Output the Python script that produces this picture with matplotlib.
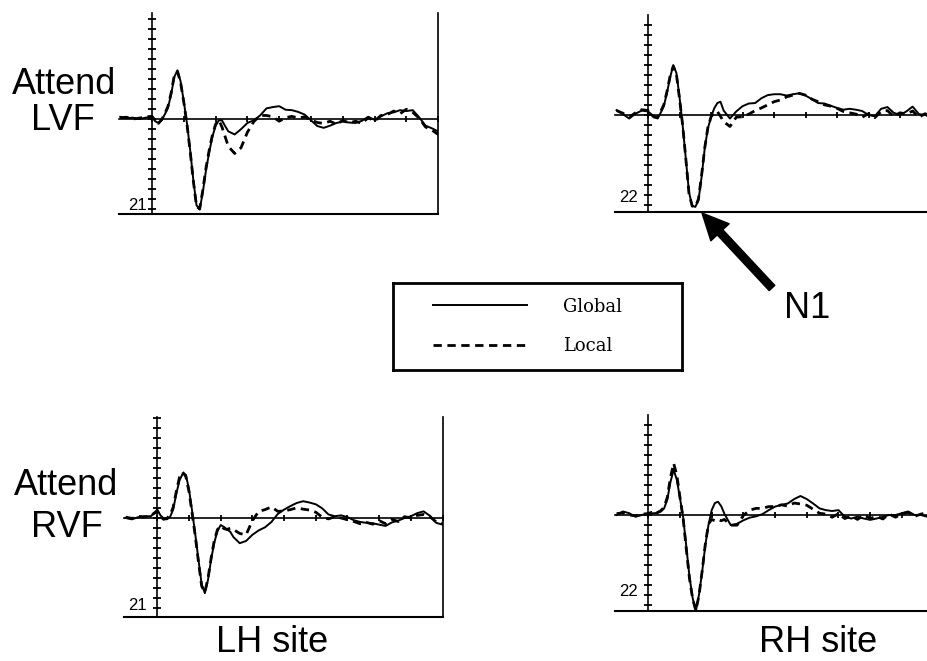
import matplotlib
matplotlib.use("Agg")
import matplotlib.pyplot as plt
import numpy as np

plt.rcParams['font.family'] = ['Liberation Sans', 'DejaVu Sans']

# time axis, ms (finer steps around P1/N1)
t_ms = ([-100, -80, -60, -40, -20]
        + list(range(0, 250, 10))
        + list(range(260, 901, 20)))

# ERP amplitudes (uV)
lh_lvf_global = [0.5, 0.2, 0.3, 0.0, 0.3,
                 0.5, -0.5, -0.9, -0.3, 1.0, 2.5, 5.5, 9.5, 11.0, 8.5, 4.0, -1.0, -7.0,
                 -13.8, -19.5, -20.5, -16.5, -11.5, -7.5, -4.0, -1.5, -0.3, -0.3, -1.6, -2.8,
                 -3.5, -2.3, -0.9, -0.3, 0.8, 2.4, 2.7, 2.9, 2.1, 2.0, 1.6, 1.0, -0.3, -1.6,
                 -2.0, -1.5, -0.9, -0.6, -0.8, -0.9, -0.4, 0.5, -0.2, 0.6, 1.3, 1.5, 2.0,
                 1.8, 2.0, 0.4, -1.5, -2.1, -2.8]
lh_lvf_local = [0.3, 0.4, 0.0, 0.2, 0.5,
                0.6, -0.3, -1.0, -0.2, 1.2, 2.8, 5.8, 9.8, 10.8, 8.2, 3.8, -1.2, -7.3,
                -14.0, -19.8, -20.3, -16.0, -11.0, -7.0, -3.6, -1.2, -0.2, -1.8, -4.0, -6.2,
                -7.8, -6.5, -3.0, -0.6, 0.8, 0.8, 0.5, -0.5, 0.3, 0.6, 0.2, 0.5, -0.2, -0.8,
                -1.0, -0.5, -1.2, -0.3, -0.9, -0.5, -1.0, 0.3, -0.5, 0.8, 1.0, 1.8, 1.2,
                2.2, 1.5, 0.2, -1.8, -2.5, -3.5]

rh_lvf_global = [1.1, 0.2, -0.8, 0.3, 1.0,
                 0.8, 0.2, -0.3, -0.8, 0.5, 2.0, 5.0, 8.5, 11.3, 9.5, 4.0, -2.5, -10.0,
                 -17.5, -20.5, -20.8, -19.3, -14.0, -7.5, -3.0, -0.5, 1.5, 2.7, 3.0, 1.0,
                 -0.8, 0.8, 2.0, 2.6, 2.7, 3.8, 4.5, 4.7, 4.7, 4.4, 4.7, 4.9, 4.4, 3.6,
                 2.7, 2.6, 2.1, 1.6, 1.2, 1.4, 1.2, 0.9, 0.0, -0.3, 1.4, 1.8, 0.5,
                 0.0, 0.8, 1.9, 0.2, 0.0, -0.4]
rh_lvf_local = [1.0, 0.4, -0.5, 0.5, 1.2,
                1.0, 0.0, -0.5, -0.6, 0.8, 2.3, 5.3, 8.8, 11.0, 9.2, 3.6, -2.4, -10.0,
                -17.8, -20.6, -20.8, -19.0, -13.6, -7.4, -2.8, -0.4, 0.5, 0.8, -0.3, -1.5,
                -2.6, -0.5, -0.4, 0.2, 1.0, 1.6, 2.3, 3.0, 3.4, 4.1, 4.5, 4.9, 4.5, 3.6,
                3.0, 2.3, 2.0, 1.5, 0.8, 0.5, 0.2, -0.5, 0.3, -0.6, 0.8, 1.0, -0.3,
                0.5, 0.2, 0.9, -0.5, 0.3, -0.8]

lh_rvf_global = [0.0, -0.3, 0.2, 0.4, 0.4,
                 1.9, 0.6, -0.1, -0.3, 0.2, 1.9, 5.5, 8.5, 10.0, 9.8, 6.5, 1.5, -3.8,
                 -9.5, -15.0, -17.0, -14.0, -9.3, -5.5, -2.9, -1.6, -2.0, -2.6, -3.1, -4.3,
                 -5.7, -5.2, -3.8, -2.8, -2.1, -0.9, 0.9, 1.9, 2.7, 3.4, 3.8, 3.5, 3.1, 2.2,
                 0.8, 0.4, 0.6, 0.2, -0.5, -0.9, -1.1, -1.2, -1.5, -1.8, -1.0, -0.6, 0.0,
                 0.4, 1.1, 1.5, 0.5, -1.1, -1.5]
lh_rvf_local = [0.2, -0.1, 0.4, 0.2, 0.6,
                1.5, 0.3, -0.3, -0.1, 0.6, 2.4, 6.0, 9.2, 10.4, 9.4, 6.0, 1.0, -4.2,
                -10.0, -15.4, -16.8, -13.6, -9.0, -5.0, -2.6, -1.8, -2.4, -2.6, -2.3, -2.6,
                -3.5, -3.8, -0.6, 1.5, 1.9, 2.5, 1.5, 1.6, 1.9, 2.3, 2.0, 1.8, 1.3, 0.2,
                -0.2, 0.3, 0.0, -0.4, -0.8, -1.3, -1.0, -1.4, -0.6, -1.3, -0.3, -0.8, 0.3,
                0.0, 0.6, 0.8, 0.3, -0.9, -1.2]

rh_rvf_global = [0.0, 0.8, 0.4, -0.4, 0.0,
                 0.4, 0.4, 0.4, 0.5, 0.8, 1.5, 3.5, 7.5, 10.2, 8.0, 3.8, -0.5, -7.2,
                 -14.0, -18.8, -21.8, -18.0, -12.8, -6.8, -2.2, 1.1, 2.7, 3.0, 2.0, 0.3,
                 -2.3, -2.0, -1.2, -0.6, -0.3, 0.2, 1.1, 1.9, 2.3, 2.6, 3.6, 4.3, 3.6, 2.6,
                 1.5, 1.1, 0.9, 1.1, -0.4, -0.8, -0.4, -0.8, -1.1, -0.8, -0.4, 0.0, 0.0,
                 0.4, 0.8, 0.0, 0.0, -0.4, -0.6]
rh_rvf_local = [0.3, 0.5, 0.0, -0.2, 0.2,
                0.3, 0.6, 0.2, 0.6, 1.0, 1.8, 4.0, 8.5, 11.7, 9.0, 4.0, -0.8, -7.8,
                -14.4, -19.0, -21.6, -18.2, -12.6, -6.5, -2.0, -1.0, -1.3, -1.0, -1.3, -1.0,
                -2.3, -2.3, -0.1, 1.1, 1.5, 1.5, 1.9, 1.9, 2.3, 2.0, 2.7, 2.5, 2.2, 1.3,
                0.4, 0.2, -0.5, 0.3, -0.8, -0.2, -1.0, 0.0, -0.8, -0.3, -0.9, 0.2, -0.5,
                0.3, 0.6, -0.3, 0.2, 0.5, -0.8]

W, H = 927, 661
fig = plt.figure(figsize=(W / 100, H / 100), dpi=100)


def px_rect(left, top, right, bottom):
    return [left / W, 1 - bottom / H, (right - left) / W, (bottom - top) / H]


def panel(left, top, right, bottom, zero_px, glob, loc, right_border, lab, lab_xy):
    ax = fig.add_axes(px_rect(left, top, right, bottom))
    scale = 4.42  # px per uV
    ylo, yhi = -(bottom - zero_px) / scale, (zero_px - top) / scale
    ax.set_xlim(-105, 900)
    ax.set_ylim(ylo, yhi)
    l1, = ax.plot(t_ms, glob, color='black', lw=1.4)
    l2, = ax.plot(t_ms, loc, color='black', lw=2.0, linestyle=(0, (3, 2)))
    for s in ['left', 'bottom']:
        ax.spines[s].set_position(('data', 0))
        ax.spines[s].set_linewidth(1.2)
    ax.spines['top'].set_visible(False)
    ax.spines['right'].set_visible(right_border)
    ax.spines['right'].set_linewidth(1.2)
    ax.axhline(ylo, color='black', lw=1.5, clip_on=False)
    step = 10 / scale
    yt = np.concatenate([-np.arange(step, -ylo + 0.01, step), np.arange(0, yhi, step)])
    ax.set_yticks(yt)
    ax.set_xticks(np.arange(0, 901, 100))
    ax.tick_params(direction='inout', length=6, width=1.3,
                   labelleft=False, labelbottom=False)
    ax.tick_params(axis='x', length=5)
    fig.text(lab_xy[0] / W, 1 - lab_xy[1] / H, lab, ha='center', va='center', fontsize=12)
    return l1, l2


h_glob, h_loc = panel(118.6, 13, 438.2, 214, 119, lh_lvf_global, lh_lvf_local, True, '21', (137, 206))
panel(615, 15, 931.5, 212, 115, rh_lvf_global, rh_lvf_local, False, '22', (628, 198))
panel(124, 417, 442.6, 617, 518, lh_rvf_global, lh_rvf_local, True, '21', (137, 605))
panel(615, 415, 933.6, 611, 515, rh_rvf_global, rh_rvf_local, False, '22', (628, 592))


def label(x, y, s):
    fig.text(x / W, 1 - y / H, s, ha='center', va='baseline', fontsize=26)


label(64, 94, 'Attend')
label(63, 130, 'LVF')
label(66, 495, 'Attend')
label(67, 537, 'RVF')
label(272, 652, 'LH site')
label(818, 652, 'RH site')
label(807, 318, 'N1')

# N1 arrow
fig.axes[1].annotate('', xy=(702, H - 213), xycoords='figure pixels',
                     xytext=(772, H - 288), textcoords='figure pixels',
                     arrowprops=dict(facecolor='black', edgecolor='black',
                                     width=5.5, headwidth=18, headlength=19, shrink=0))

# legend box
lax = fig.add_axes(px_rect(393, 283, 682, 370))
lax.set_xticks([])
lax.set_yticks([])
for s in lax.spines.values():
    s.set_linewidth(2)
lax.legend([h_glob, h_loc], ['Global', 'Local'], loc='center left',
           bbox_to_anchor=(40 / 289, 0.5), frameon=False,
           prop=dict(family='DejaVu Serif', size=13),
           handlelength=5.2, handletextpad=2.0, labelspacing=1.2,
           borderpad=0, borderaxespad=0)

fig.savefig('out.png', dpi=100)
